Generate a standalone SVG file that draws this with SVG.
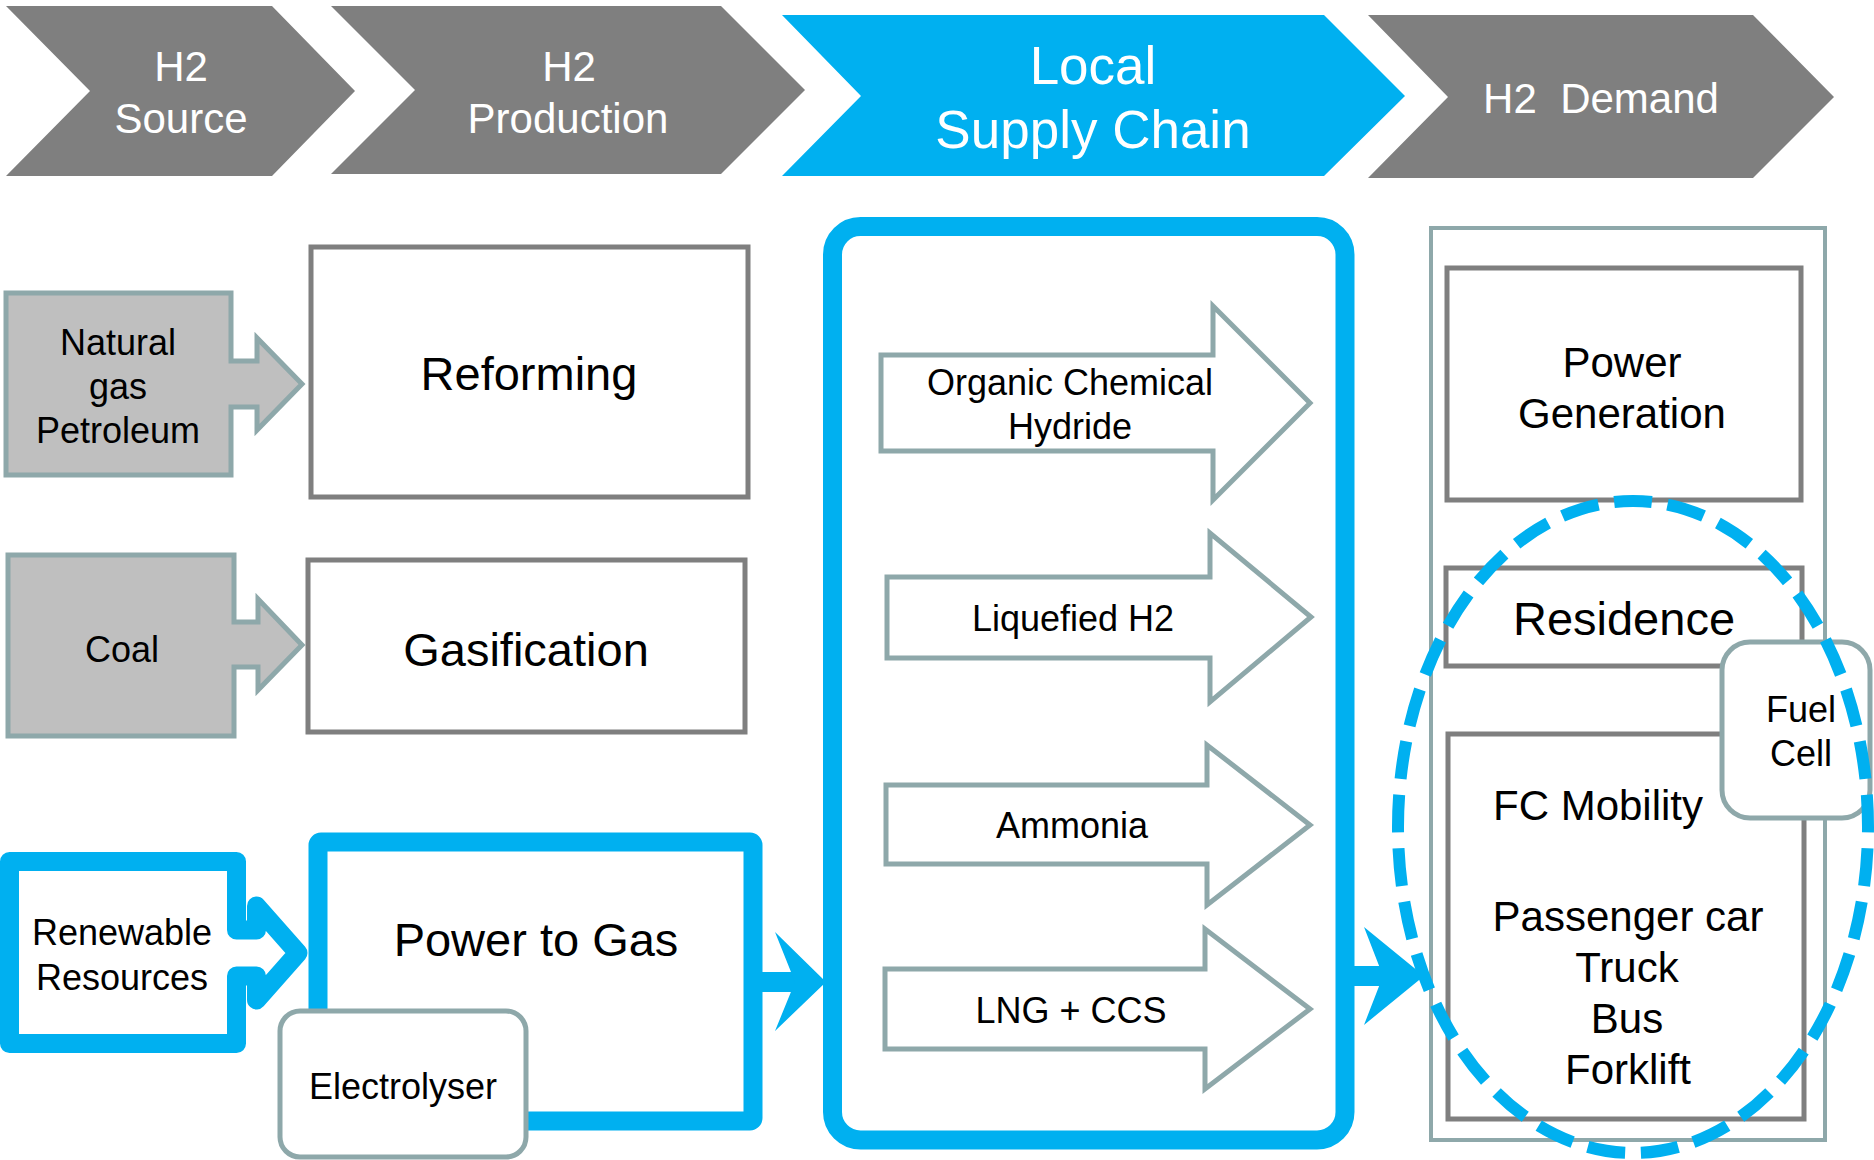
<svg xmlns="http://www.w3.org/2000/svg" width="1874" height="1160" viewBox="0 0 1874 1160">
<style>
text { font-family: "Liberation Sans", Arial, sans-serif; text-anchor: middle; fill: #000; }
.hdr { fill: #fff; font-size: 42px; }
.hdrb { fill: #fff; font-size: 53px; }
.gray { fill: #7F7F7F; }
.bluefill { fill: #00B0F0; }
.src { fill: #BFBFBF; stroke: #8EA8AA; stroke-width: 5; }
.proc { fill: #fff; stroke: #7F7F7F; stroke-width: 5; }
.thick { fill: #fff; stroke: #00B0F0; stroke-width: 19; stroke-linejoin: round; }
.teal { fill: #fff; stroke: #8EA8AA; stroke-width: 5; }
.t36 { font-size: 36px; }
.t42 { font-size: 42px; }
.t47 { font-size: 47px; }
.dash { fill: none; stroke: #00B0F0; stroke-width: 12; stroke-dasharray: 38 16; stroke-dashoffset: 32.5; }
</style>
<rect width="1874" height="1160" fill="#fff"/>

<g id="hdr-source">
  <polygon class="gray" points="6,6 272,6 355,91 272,176 6,176 90,91"/>
  <text class="hdr" x="181" y="81">H2</text>
  <text class="hdr" x="181" y="133">Source</text>
</g>
<g id="hdr-production">
  <polygon class="gray" points="331,6 721,6 805,90 721,174 331,174 415,90"/>
  <text class="hdr" x="569" y="81">H2</text>
  <text class="hdr" x="568" y="133">Production</text>
</g>
<g id="hdr-supply">
  <polygon class="bluefill" points="782,15 1324,15 1405,96 1324,176 782,176 861,96"/>
  <text class="hdrb" x="1093" y="84">Local</text>
  <text class="hdrb" x="1093" y="148">Supply Chain</text>
</g>
<g id="hdr-demand">
  <polygon class="gray" points="1368,15 1753,15 1834,97 1753,178 1368,178 1448,97"/>
  <text class="hdr" x="1601" y="113" xml:space="preserve">H2  Demand</text>
</g>

<g id="natural-gas">
  <polygon class="src" points="6,293 231,293 231,361 257,361 257,338 302,384 257,430 257,407 231,407 231,475 6,475"/>
  <text class="t36" x="118" y="355">Natural</text>
  <text class="t36" x="118" y="399">gas</text>
  <text class="t36" x="118" y="443">Petroleum</text>
</g>
<g id="reforming">
  <rect class="proc" x="311" y="247" width="437" height="250"/>
  <text class="t47" x="529" y="390">Reforming</text>
</g>
<g id="coal">
  <polygon class="src" points="8,555 234,555 234,622 258,622 258,599 302,645 258,690 258,667 234,667 234,736 8,736"/>
  <text class="t36" x="122" y="662">Coal</text>
</g>
<g id="gasification">
  <rect class="proc" x="308" y="560" width="437" height="172"/>
  <text class="t47" x="526" y="666">Gasification</text>
</g>
<g id="renewable">
  <path class="thick" d="M9.5,861.5 H236.5 V930 H256.5 V906 L298,953 L256.5,1000 V976 H236.5 V1043.5 H9.5 Z"/>
  <text class="t36" x="122" y="945">Renewable</text>
  <text class="t36" x="122" y="990">Resources</text>
</g>
<g id="power-to-gas">
  <rect class="thick" x="318" y="842" width="435" height="279" rx="3"/>
  <text class="t47" x="536" y="956">Power to Gas</text>
</g>
<g id="electrolyser">
  <rect class="teal" x="280" y="1011" width="246" height="146" rx="20"/>
  <text class="t36" x="403" y="1099">Electrolyser</text>
</g>

<g id="local-supply-chain">
  <rect class="thick" x="832.5" y="226.5" width="512.5" height="913.5" rx="28"/>
</g>
<g id="och">
  <polygon class="teal" points="881,355 1213,355 1213,306 1310,403 1213,500 1213,451 881,451"/>
  <text class="t36" x="1070" y="395">Organic Chemical</text>
  <text class="t36" x="1070" y="439">Hydride</text>
</g>
<g id="liquefied-h2">
  <polygon class="teal" points="887,577 1210,577 1210,533 1311,617 1210,702 1210,658 887,658"/>
  <text class="t36" x="1073" y="631">Liquefied H2</text>
</g>
<g id="ammonia">
  <polygon class="teal" points="886,785 1207,785 1207,745 1310,825 1207,905 1207,864 886,864"/>
  <text class="t36" x="1072" y="838">Ammonia</text>
</g>
<g id="lng-ccs">
  <polygon class="teal" points="885,969 1205,969 1205,929 1310,1009 1205,1089 1205,1049 885,1049"/>
  <text class="t36" x="1071" y="1023">LNG + CCS</text>
</g>

<g id="h2-demand">
  <rect fill="#fff" stroke="#8EA8AA" stroke-width="4" x="1431" y="228" width="394" height="912"/>
</g>
<g id="power-generation">
  <rect class="proc" x="1447" y="268" width="354" height="232"/>
  <text class="t42" x="1622" y="377">Power</text>
  <text class="t42" x="1622" y="428">Generation</text>
</g>
<g id="residence">
  <rect class="proc" x="1446" y="568" width="356" height="98"/>
  <text class="t47" x="1624" y="635">Residence</text>
</g>
<g id="fc-mobility">
  <rect class="proc" x="1448" y="734" width="356" height="385"/>
  <text class="t42" x="1598" y="820">FC Mobility</text>
  <text class="t42" x="1628" y="931">Passenger car</text>
  <text class="t42" x="1627" y="982">Truck</text>
  <text class="t42" x="1627" y="1033">Bus</text>
  <text class="t42" x="1628" y="1084">Forklift</text>
</g>
<g id="fuel-cell">
  <rect class="teal" x="1722" y="642" width="148" height="176" rx="28"/>
  <text class="t36" x="1801" y="722">Fuel</text>
  <text class="t36" x="1801" y="766">Cell</text>
</g>

<g id="connectors">
  <rect class="bluefill" x="753" y="972" width="44" height="20"/>
  <polygon class="bluefill" points="775,932 826,982 775,1031 795,982"/>
  <rect class="bluefill" x="1345" y="966" width="40" height="20"/>
  <polygon class="bluefill" points="1364,927 1424,976 1364,1025 1383,976"/>
</g>

<g id="fuel-cell-zone">
  <ellipse class="dash" cx="1633" cy="827" rx="235" ry="326" pathLength="1782"/>
</g>
</svg>
